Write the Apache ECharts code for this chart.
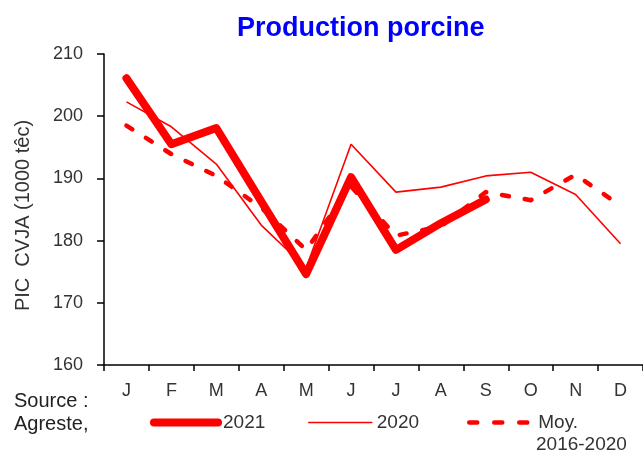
<!DOCTYPE html>
<html>
<head>
<meta charset="utf-8">
<script src="https://cdn.jsdelivr.net/npm/echarts@6/dist/echarts.min.js"></script>
<style>
  html, body { margin: 0; padding: 0; background: #fff; }
  #chart { width: 643px; height: 452px; }
</style>
</head>
<body>
<div id="chart"></div>
<script>
  var months = ['J', 'F', 'M', 'A', 'M', 'J', 'J', 'A', 'S', 'O', 'N', 'D'];
  var prod2021 = [206.1, 195.5, 198.1, 186.3, 174.6, 190.2, 178.5, 182.8, 186.6];
  var prod2020 = [202.3, 198.3, 192.3, 182.5, 175.6, 195.5, 187.8, 188.6, 190.4, 191.0, 187.4, 179.5];
  var moyenne = [198.5, 193.9, 190.4, 185.3, 178.5, 188.7, 180.8, 182.3, 187.8, 186.5, 190.6, 185.6];

  var myChart = echarts.init(document.getElementById('chart'));
  var font = 'Liberation Sans, Arial, sans-serif';
  var red = '#ff0000';

  function legendFor(name, left, width, lineWidth, dash) {
    return {
      data: [name], left: left, top: 413, itemWidth: width, itemHeight: 14, padding: 0,
      itemStyle: { opacity: 0 },
      lineStyle: { color: red, width: lineWidth, type: dash || 'solid', cap: 'round' },
      textStyle: { color: '#333', fontSize: 19, fontFamily: font }
    };
  }

  var option = {
    animation: false,
    title: [
      {
        text: 'Production porcine',
        left: 237, top: 15, padding: 0,
        textStyle: { color: '#0000ff', fontSize: 27, fontWeight: 'bold', fontFamily: font }
      },
      {
        text: 'Source :\nAgreste,',
        left: 14, top: 390, padding: 0,
        textStyle: { color: '#222', fontSize: 20, fontWeight: 'normal', fontFamily: font, lineHeight: 23 }
      },
      {
        text: '2016-2020',
        left: 536, top: 435, padding: 0,
        textStyle: { color: '#333', fontSize: 19, fontWeight: 'normal', fontFamily: font }
      }
    ],
    legend: [
      legendFor('2021', 150, 64, 8),
      legendFor('2020', 308, 63, 1.6),
      legendFor('Moy.', 467, 64, 4.5, [8, 17])
    ],
    grid: { left: 104, right: 0, top: 54, bottom: 87, outerBoundsMode: 'none' },
    xAxis: {
      type: 'category',
      data: months,
      boundaryGap: true,
      axisLine: { lineStyle: { color: '#000', width: 1.5 } },
      axisTick: { show: true, length: 6, lineStyle: { color: '#000', width: 1.5 } },
      axisLabel: { color: '#333', fontSize: 18, margin: 17, fontFamily: font },
      splitLine: { show: false }
    },
    yAxis: {
      type: 'value',
      min: 160,
      max: 210,
      interval: 10,
      name: 'PIC  CVJA (1000 têc)',
      nameLocation: 'middle',
      nameRotate: 90,
      nameGap: 71,
      nameTextStyle: { color: '#333', fontSize: 20, fontFamily: font, padding: [0, 12, 0, 0] },
      axisLine: { show: true, lineStyle: { color: '#000', width: 1.5 } },
      axisTick: { show: true, length: 7, lineStyle: { color: '#000', width: 1.5 } },
      axisLabel: { color: '#333', fontSize: 18, margin: 21, fontFamily: font },
      splitLine: { show: false }
    },
    series: [
      {
        name: '2021',
        type: 'line',
        data: prod2021,
        showSymbol: false,
        symbol: 'none',
        color: red,
        lineStyle: { color: red, width: 8, cap: 'round', join: 'round' }
      },
      {
        name: '2020',
        type: 'line',
        data: prod2020,
        showSymbol: false,
        symbol: 'none',
        color: red,
        lineStyle: { color: red, width: 1.6 }
      },
      {
        name: 'Moy.',
        type: 'line',
        data: moyenne,
        showSymbol: false,
        symbol: 'none',
        color: red,
        lineStyle: { color: red, width: 4.5, type: [7, 16], cap: 'round', join: 'round' }
      }
    ]
  };
  option && myChart.setOption(option);
</script>
</body>
</html>
